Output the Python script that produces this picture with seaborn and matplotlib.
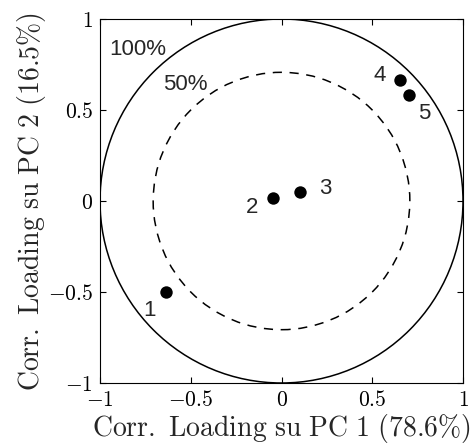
import matplotlib
matplotlib.use("Agg")
import matplotlib.pyplot as plt
import matplotlib.patches as mpatches
import seaborn as sns
import pandas as pd

# data
labels = ["1", "2", "3", "4", "5"]
pc1 = [-0.636, -0.049, 0.100, 0.651, 0.701]
pc2 = [-0.500, 0.018, 0.048, 0.665, 0.584]
label_x = [-0.73, -0.16, 0.24, 0.54, 0.785]
label_y = [-0.60, -0.035, 0.07, 0.69, 0.48]
ticks = [-1, -0.5, 0, 0.5, 1]
tick_labels = ["$-1$", "$-0.5$", "$0$", "$0.5$", "$1$"]
xlabel = r"$\mathrm{Corr.\ Loading\ su\ PC\ 1\ (78.6\%)}$"
ylabel = r"$\mathrm{Corr.\ Loading\ su\ PC\ 2\ (16.5\%)}$"

sns.set_style("white")
plt.rcParams["mathtext.fontset"] = "cm"
plt.rcParams["font.family"] = ["Liberation Sans", "DejaVu Sans"]

df = pd.DataFrame({"pc1": pc1, "pc2": pc2, "label": labels})

fig = plt.figure(figsize=(4.75, 4.48), dpi=100)
ax = fig.add_axes([100 / 475, 1 - 383 / 448, 363 / 475, 364 / 448])

ax.add_patch(mpatches.Circle((0, 0), 1.0, fill=False, ec="black", lw=1.1))
ax.add_patch(mpatches.Circle((0, 0), 0.5 ** 0.5, fill=False, ec="black", lw=1.1,
                             ls=(0, (6, 5))))

sns.scatterplot(data=df, x="pc1", y="pc2", ax=ax, color="black", s=80,
                edgecolor="black", linewidth=0, legend=False, zorder=3)

for lab, lx, ly in zip(labels, label_x, label_y):
    ax.text(lx, ly, lab, fontsize=16, ha="center", va="center")

ax.text(-0.79, 0.83, "100%", fontsize=16, ha="center", va="center")
ax.text(-0.53, 0.64, "50%", fontsize=16, ha="center", va="center")

ax.set_xlim(-1, 1)
ax.set_ylim(-1, 1)
ax.set_xticks(ticks)
ax.set_yticks(ticks)
ax.set_xticklabels(tick_labels, fontsize=15.5)
ax.set_yticklabels(tick_labels, fontsize=15.5)
ax.tick_params(direction="in", length=4, width=0.8, top=True, right=True,
               bottom=True, left=True, pad=3, colors="black")
ax.tick_params(axis="x", pad=5)
ax.tick_params(axis="y", pad=5)
ax.set_xlabel(xlabel, fontsize=20, labelpad=1)
ax.set_ylabel(ylabel, fontsize=20, labelpad=0)
for sp in ax.spines.values():
    sp.set_color("black")
    sp.set_linewidth(0.8)

fig.savefig("out.png", dpi=100)
